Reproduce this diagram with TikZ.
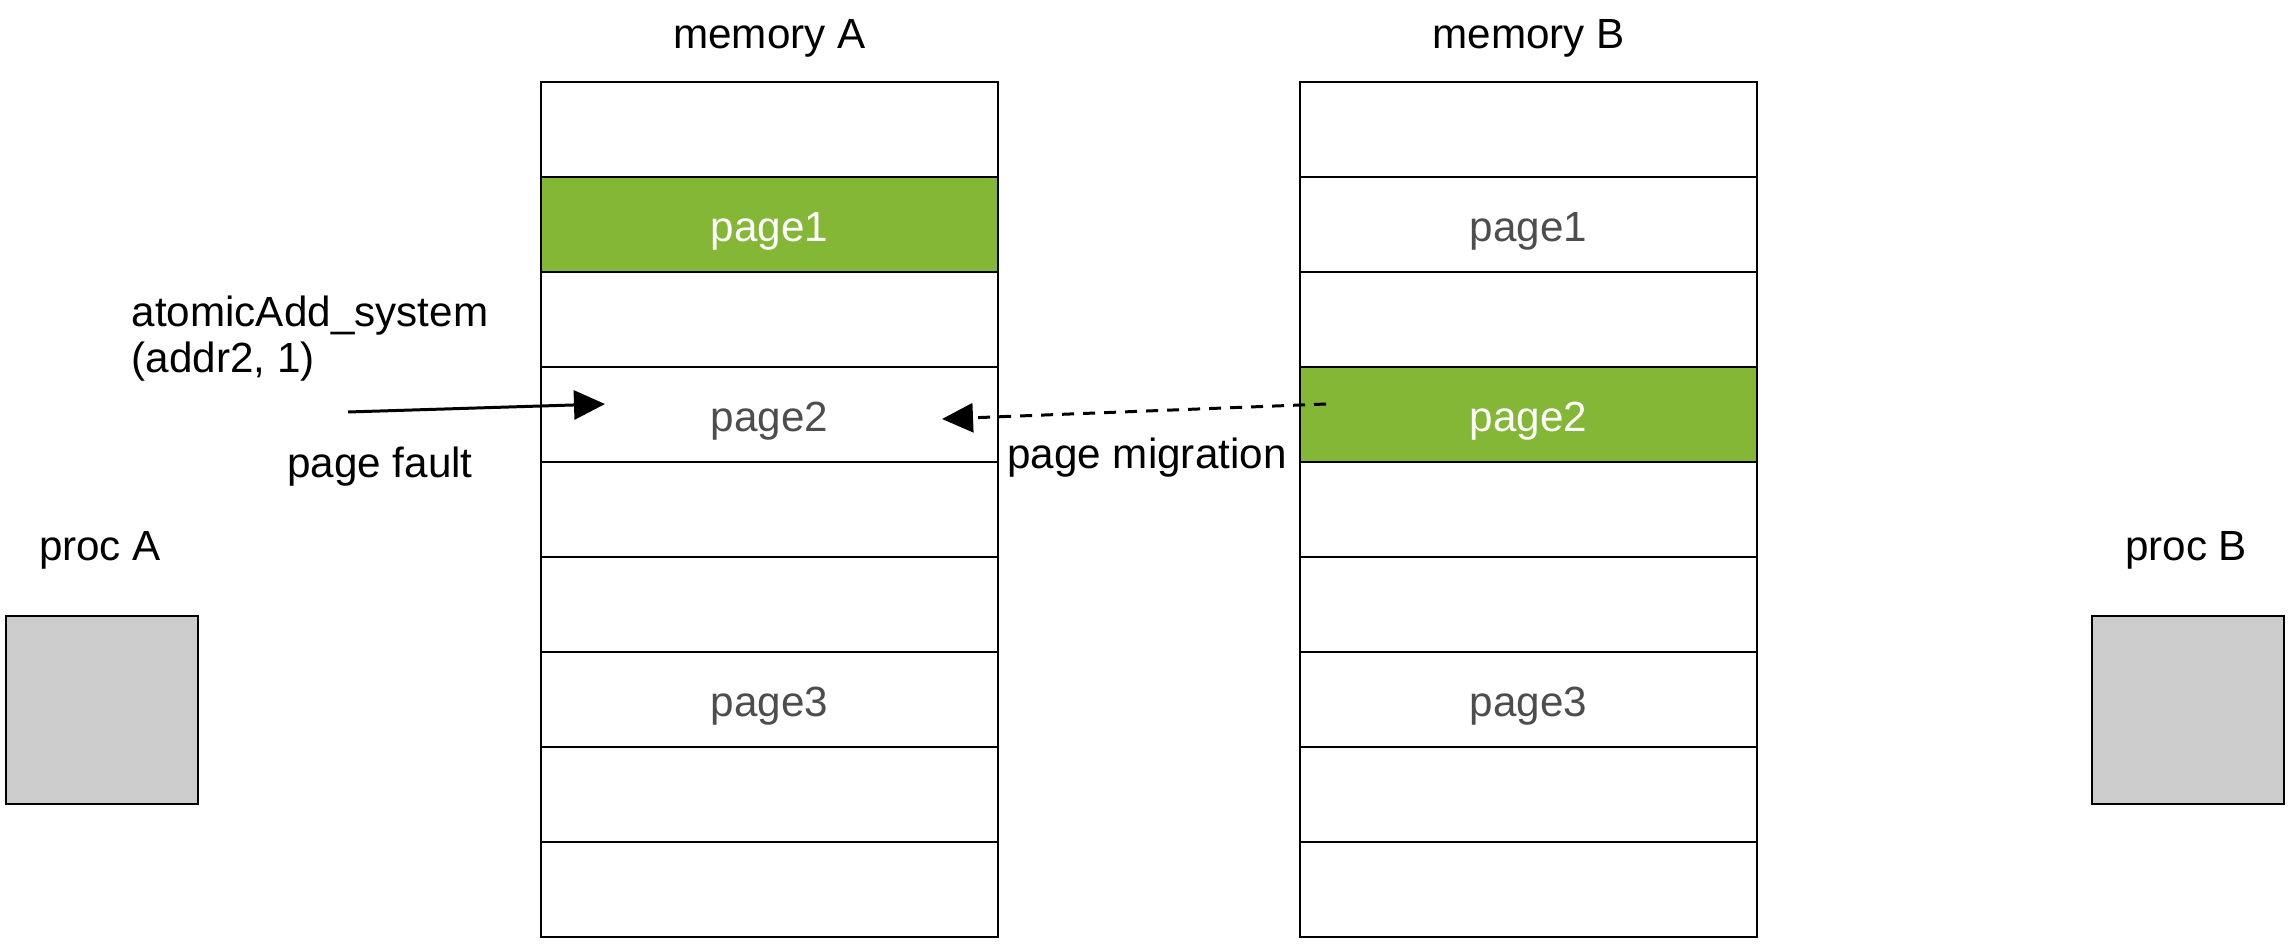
\documentclass[tikz,border=0pt]{standalone}
\usepackage{fontspec}
\setmainfont{Liberation Sans}
\usetikzlibrary{arrows.meta,positioning}
\usetikzlibrary{calc}
\definecolor{pagegreen}{RGB}{133,183,55}
\definecolor{pagetext}{RGB}{77,77,77}
\definecolor{procgray}{RGB}{204,204,204}
\tikzset{
  cell/.style={draw, line width=0.6pt, minimum width=4.57cm, minimum height=0.95cm, inner sep=0pt, outer sep=0pt, text=pagetext, text height=1.15em, text depth=0.19em},
  hot/.style={cell, fill=pagegreen, text=white},
  proc/.style={draw, line width=0.6pt, fill=procgray, minimum width=1.92cm, minimum height=1.88cm, inner sep=0pt},
  lbl/.style={anchor=base, inner sep=0pt},
  call/.style={line width=0.85pt, -{Triangle[length=0.31cm, width=0.29cm]}},
  migrate/.style={call, dash pattern=on 0.12cm off 0.09cm}
}

\begin{document}
\begin{tikzpicture}[x=0.01cm, y=-0.01cm, font=\fontsize{12}{13.1}\selectfont]
\useasboundingbox (0,0) rectangle (2292,946);

% memory A
\foreach \i/\txt/\sty in {1//cell,2/page1/hot,3//cell,4/page2/cell,5//cell,6//cell,7/page3/cell,8//cell,9//cell}
  \node[\sty] (a\i) at (769.5,{34.5+95*\i}) {\txt};
% memory B
\foreach \i/\txt/\sty in {1//cell,2/page1/cell,3//cell,4/page2/hot,5//cell,6//cell,7/page3/cell,8//cell,9//cell}
  \node[\sty] (b\i) at (1528.5,{34.5+95*\i}) {\txt};

\node[lbl] (memA) at (769.5,49) {memory A};
\node[lbl] (memB) at (1528.5,49) {memory B};

% processors
\node[proc] (procA) at (102,710) {};
\node[proc] (procB) at (2188,710) {};
\node[lbl] (procAlbl) at (100,560) {proc A};
\node[lbl] (procBlbl) at (2186,560) {proc B};

% access and migration
\node[anchor=base west, align=left, inner sep=0pt] (call) at (131,373) {atomicAdd\_system\\(addr2, 1)};
\node[lbl] (fault) at (380,477) {page fault};
\node[lbl] (migr) at (1147,468) {page migration};

\coordinate (callsrc) at (348,412);
\coordinate (calldst) at (605,404);
\draw[call] (callsrc) -- (calldst);
\coordinate (migsrc) at (1326,404);
\coordinate (migdst) at (942,419);
\draw[migrate] (migsrc) -- (migdst);
\end{tikzpicture}
\end{document}
